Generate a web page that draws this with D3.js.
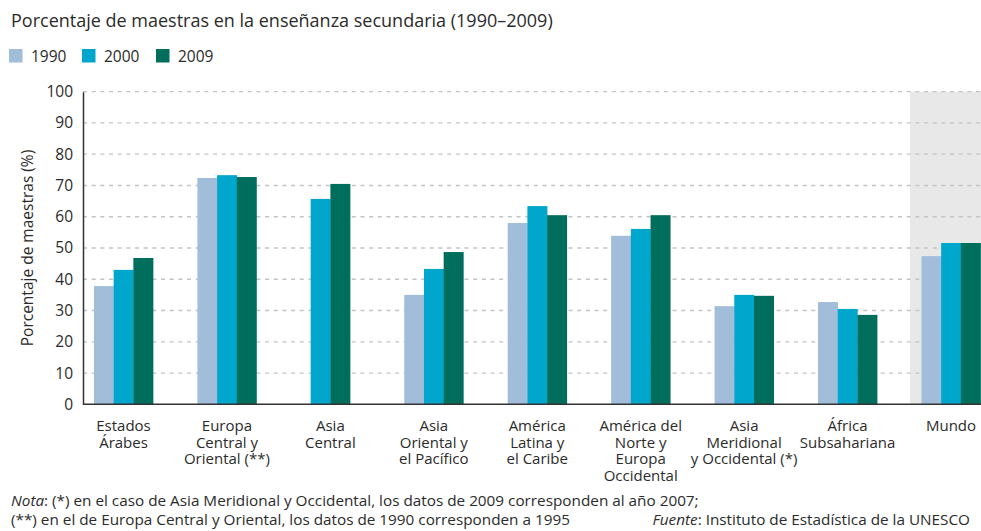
<!DOCTYPE html>
<html><head><meta charset="utf-8">
<script src="https://cdn.jsdelivr.net/npm/d3@7/dist/d3.min.js"></script>
<style>
body{margin:0;background:#fff;}
text{font-family:"Open Sans",sans-serif;fill:#2b2b2b;}
</style></head>
<body>
<svg id="chart" width="981" height="531"></svg>
<script>
const categories = [
  ["Estados","Árabes"],
  ["Europa","Central y","Oriental (**)"],
  ["Asia","Central"],
  ["Asia","Oriental y","el Pacífico"],
  ["América","Latina y","el Caribe"],
  ["América del","Norte y","Europa","Occidental"],
  ["Asia","Meridional","y Occidental (*)"],
  ["África","Subsahariana"],
  ["Mundo"]
];
const seriesNames = ["1990","2000","2009"];
const values1990 = [37.8, 72.4, null, 35.0, 58.0, 53.9, 31.4, 32.7, 47.4];
const values2000 = [43.0, 73.3, 65.7, 43.3, 63.4, 56.1, 35.0, 30.5, 51.6];
const values2009 = [46.8, 72.7, 70.5, 48.7, 60.5, 60.5, 34.7, 28.6, 51.6];
const colors = ["#a2bdd9", "#00a6cc", "#006e5d"];
const yTicks = [0,10,20,30,40,50,60,70,80,90,100];

(function(){
const svg = d3.select("#chart");
const pLeft = 83, pRight = 981, pTop = 91.7, pBottom = 404.3;
const barW = 19.7;

const keys = categories.map((c,i)=>"c"+i);
const x = d3.scalePoint().domain(keys).range([123.5, 951]).padding(0);
const y = d3.scaleLinear().domain([0,100]).range([pBottom, pTop]);

svg.append("rect")
  .attr("x", x(keys[8]) - 41).attr("y", y(100))
  .attr("width", pRight - (x(keys[8]) - 41)).attr("height", y(0) - y(100))
  .attr("fill", "#e8e8e8");

svg.append("g").selectAll("line").data(yTicks.filter(d=>d>0)).join("line")
  .attr("x1", pLeft).attr("x2", pRight)
  .attr("y1", d=>y(d)).attr("y2", d=>y(d))
  .attr("stroke", "#c4c4c4").attr("stroke-width", 1.3)
  .attr("stroke-dasharray", "4,4.67");

const series = [values1990, values2000, values2009];
categories.forEach((c,i)=>{
  const present = series.map((s,k)=>({k, v:s[i]})).filter(d=>d.v!=null);
  const n = present.length;
  const start = x(keys[i]) - n*barW/2;
  svg.append("g").selectAll("rect").data(present).join("rect")
    .attr("x", (d,j)=>start + j*barW)
    .attr("width", barW + 0.3)
    .attr("y", d=>y(d.v))
    .attr("height", d=>y(0)-y(d.v))
    .attr("fill", d=>colors[d.k]);
});

const yAxis = d3.axisLeft(y).tickValues(yTicks).tickSize(0).tickPadding(10);
const ga = svg.append("g").attr("transform", `translate(${pLeft},0)`).call(yAxis);
ga.select(".domain").attr("stroke", "#333").attr("stroke-width", 1.5);
ga.selectAll("text").attr("font-size", 15.5).attr("font-family", '"Open Sans",sans-serif').attr("fill", "#2b2b2b");

svg.append("line").attr("x1", pLeft).attr("x2", pRight).attr("y1", pBottom).attr("y2", pBottom)
  .attr("stroke", "#333").attr("stroke-width", 1.5);

categories.forEach((c,i)=>{
  const t = svg.append("text").attr("text-anchor","middle").attr("font-size",15)
    .attr("x", x(keys[i])).attr("y", 431);
  c.forEach((line,j)=>{
    t.append("tspan").attr("x", x(keys[i])).attr("dy", j===0?0:16.5).text(line);
  });
});

svg.append("text").attr("transform","translate(33,248) rotate(-90)")
  .attr("text-anchor","middle").attr("font-size",15.5).text("Porcentaje de maestras (%)");

svg.append("text").attr("x", 11).attr("y", 27).attr("font-size", 18)
  .text("Porcentaje de maestras en la enseñanza secundaria (1990–2009)");

const legX = [9, 82, 156];
seriesNames.forEach((s,i)=>{
  svg.append("rect").attr("x", legX[i]).attr("y", 49).attr("width", 13.5).attr("height", 13.5).attr("fill", colors[i]);
  svg.append("text").attr("x", legX[i]+22).attr("y", 61.5).attr("font-size", 15.5).text(s);
});

const n1 = svg.append("text").attr("x", 11).attr("y", 506).attr("font-size", 15.3);
n1.append("tspan").attr("font-style","italic").text("Nota");
n1.append("tspan").text(": (*) en el caso de Asia Meridional y Occidental, los datos de 2009 corresponden al año 2007;");
svg.append("text").attr("x", 11).attr("y", 525).attr("font-size", 15.3)
  .text("(**) en el de Europa Central y Oriental, los datos de 1990 corresponden a 1995");
const f = svg.append("text").attr("x", 970).attr("y", 525).attr("font-size", 15.3).attr("text-anchor","end");
f.append("tspan").attr("font-style","italic").text("Fuente");
f.append("tspan").text(": Instituto de Estadística de la UNESCO");
})();
</script>
</body></html>
